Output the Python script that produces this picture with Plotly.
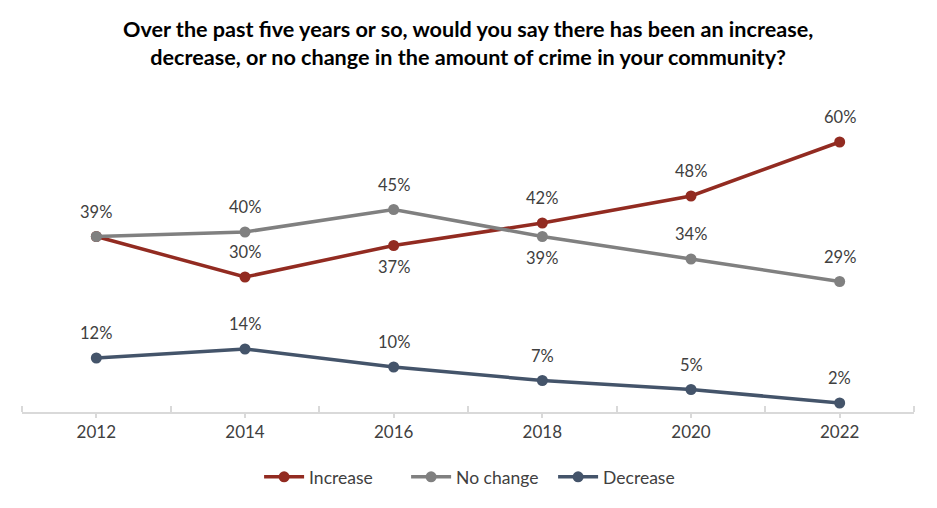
import plotly.graph_objects as go

years = [2012, 2014, 2016, 2018, 2020, 2022]
increase = [39, 30, 37, 42, 48, 60]
no_change = [39, 40, 45, 39, 34, 29]
decrease = [12, 14, 10, 7, 5, 2]

# label placement per point: 1 = above, -1 = below, 0 = hidden
inc_pos = [0, 1, -1, 1, 1, 1]
nc_pos = [1, 1, 1, -1, 1, 1]
dec_pos = [1, 1, 1, 1, 1, 1]

colors = {"Increase": "#922B21", "No change": "#808080", "Decrease": "#44546A"}
FONT = "Lato"

fig = go.Figure()
annotations = []
for name, vals, pos in [("Increase", increase, inc_pos),
                        ("No change", no_change, nc_pos),
                        ("Decrease", decrease, dec_pos)]:
    fig.add_trace(go.Scatter(
        x=years, y=vals, name=name, mode="lines+markers",
        line=dict(color=colors[name], width=3.5),
        marker=dict(color=colors[name], size=11),
    ))
    for x, v, p in zip(years, vals, pos):
        if p == 0:
            continue
        annotations.append(dict(
            x=x, y=v, xref="x", yref="y", text=f"{v}%", showarrow=False,
            yshift=25 if p > 0 else -21,
            font=dict(family=FONT, size=16.5, color="#404040"),
        ))

annotations.append(dict(
    x=0.5, y=1.171, xref="paper", yref="paper", xanchor="center", yanchor="middle",
    text="<b>Over the past five years or so, would you say there has been an increase,<br>"
         "decrease, or no change in the amount of crime in your community?</b>",
    showarrow=False, font=dict(family=FONT, size=21.6, color="#000000"),
))

fig.update_layout(
    width=937, height=508,
    margin=dict(l=22, r=23, t=97, b=96),
    paper_bgcolor="white", plot_bgcolor="white",
    font=dict(family=FONT, size=16, color="#404040"),
    showlegend=True,
    legend=dict(orientation="h", x=0.513, xanchor="center", y=-0.206, yanchor="middle",
                font=dict(family=FONT, size=17.5, color="#404040"),
                itemwidth=40, tracegroupgap=0, entrywidth=92, entrywidthmode="pixels"),
    annotations=annotations,
    xaxis=dict(
        range=[2011, 2023], tickmode="array", tickvals=years,
        ticktext=[str(y) for y in years],
        showgrid=False, zeroline=False,
        showline=True, linecolor="#D9D9D9", linewidth=1.5,
        ticks="outside", ticklen=4, tickcolor="#D9D9D9", tickwidth=1.5,
        tickfont=dict(family=FONT, size=17, color="#404040"),
        minor=dict(tickmode="array", tickvals=[2011, 2013, 2015, 2017, 2019, 2021, 2023],
                   ticks="inside", ticklen=6, tickcolor="#D9D9D9", tickwidth=1.5, showgrid=False),
    ),
    yaxis=dict(range=[0, 70], visible=False, showgrid=False, zeroline=False),
)

fig.write_html("out.html")
